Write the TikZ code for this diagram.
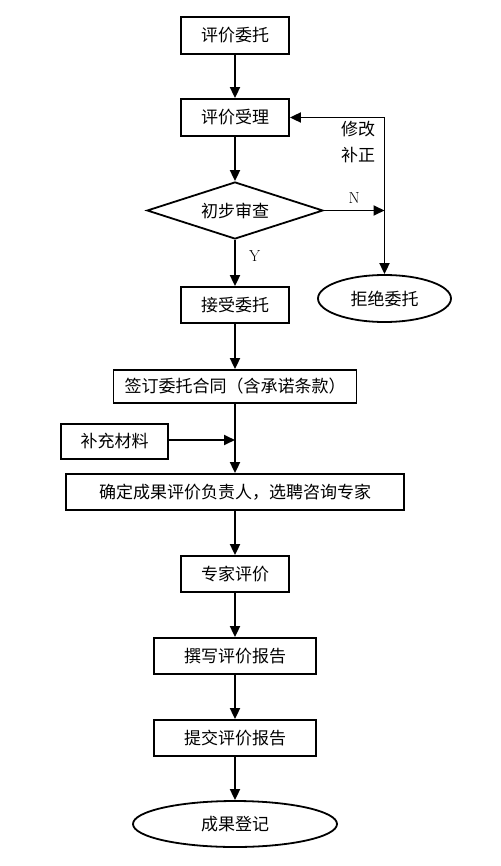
\documentclass[tikz,border=0pt]{standalone}
\usepackage{fontspec}
\newfontfamily\cjk{Noto Sans CJK SC}
\usetikzlibrary{arrows.meta, shapes.geometric}

\begin{document}
\begin{tikzpicture}[x=1pt, y=-1pt, line width=1.8pt,
	box/.style={draw, rectangle, inner sep=0pt, font=\cjk\fontsize{17}{20}\selectfont},
	oval/.style={draw, ellipse, inner sep=0pt, font=\cjk\fontsize{17}{20}\selectfont},
	arr/.style={-{Triangle[length=11pt, width=10pt]}}]
	\useasboundingbox (0,0) rectangle (500,866);

	% Main column
	\node[box, minimum width=108, minimum height=37] (entrust) at (235, 35.5) {评价委托};
	\node[box, minimum width=108, minimum height=37] (accept) at (235, 117.5) {评价受理};
	\node[box, diamond, aspect=3.1, minimum width=176, minimum height=57] (check) at (235, 210.5) {初步审查};
	\node[box, minimum width=108, minimum height=36] (take) at (235, 305) {接受委托};
	\node[box, minimum width=243, minimum height=33] (sign) at (235, 386.5) {签订委托合同（含承诺条款）};
	\node[box, minimum width=338, minimum height=36] (assign) at (235, 492) {确定成果评价负责人，选聘咨询专家};
	\node[box, minimum width=108, minimum height=36] (review) at (235, 574) {专家评价};
	\node[box, minimum width=162, minimum height=36] (write) at (235, 656) {撰写评价报告};
	\node[box, minimum width=162, minimum height=36] (submit) at (235, 738) {提交评价报告};
	\node[oval, minimum width=204, minimum height=46] (record) at (235, 824) {成果登记};

	% Side nodes
	\node[oval, minimum width=133, minimum height=47] (reject) at (384.5, 298.5) {拒绝委托};
	\node[box, minimum width=107, minimum height=35] (supp) at (114.5, 441.5) {补充材料};

	% Arrows down
	\draw[arr] (entrust) -- (accept);
	\draw[arr] (accept) -- (check);
	\draw[arr] (check) -- (take) node[pos=0.35, right=10pt, font=\fontsize{16}{18}\selectfont] (yes) {Y};
	\draw[arr] (take) -- (sign);
	\draw[arr] (sign) -- (assign);
	\draw[arr] (assign) -- (review);
	\draw[arr] (review) -- (write);
	\draw[arr] (write) -- (submit);
	\draw[arr] (submit) -- (record);

	% Feedback loop
	\coordinate (corner) at (384.5, 117.5);
	\coordinate (split) at (384.5, 210.5);
	\draw[arr] (check.east) -- (split) node[midway, above=3pt, font=\fontsize{16}{18}\selectfont] (no) {N};
	\draw[arr] (corner) -- (reject.north);
	\draw[arr] (corner) -- (accept.east);
	\node[font=\cjk\fontsize{17}{26}\selectfont, align=center] (fix) at (358, 142) {修改\\补正};

	% Extra material
	\coordinate (join) at (235, 440);
	\draw[arr] (supp.east |- join) -- (join);
\end{tikzpicture}
\end{document}
